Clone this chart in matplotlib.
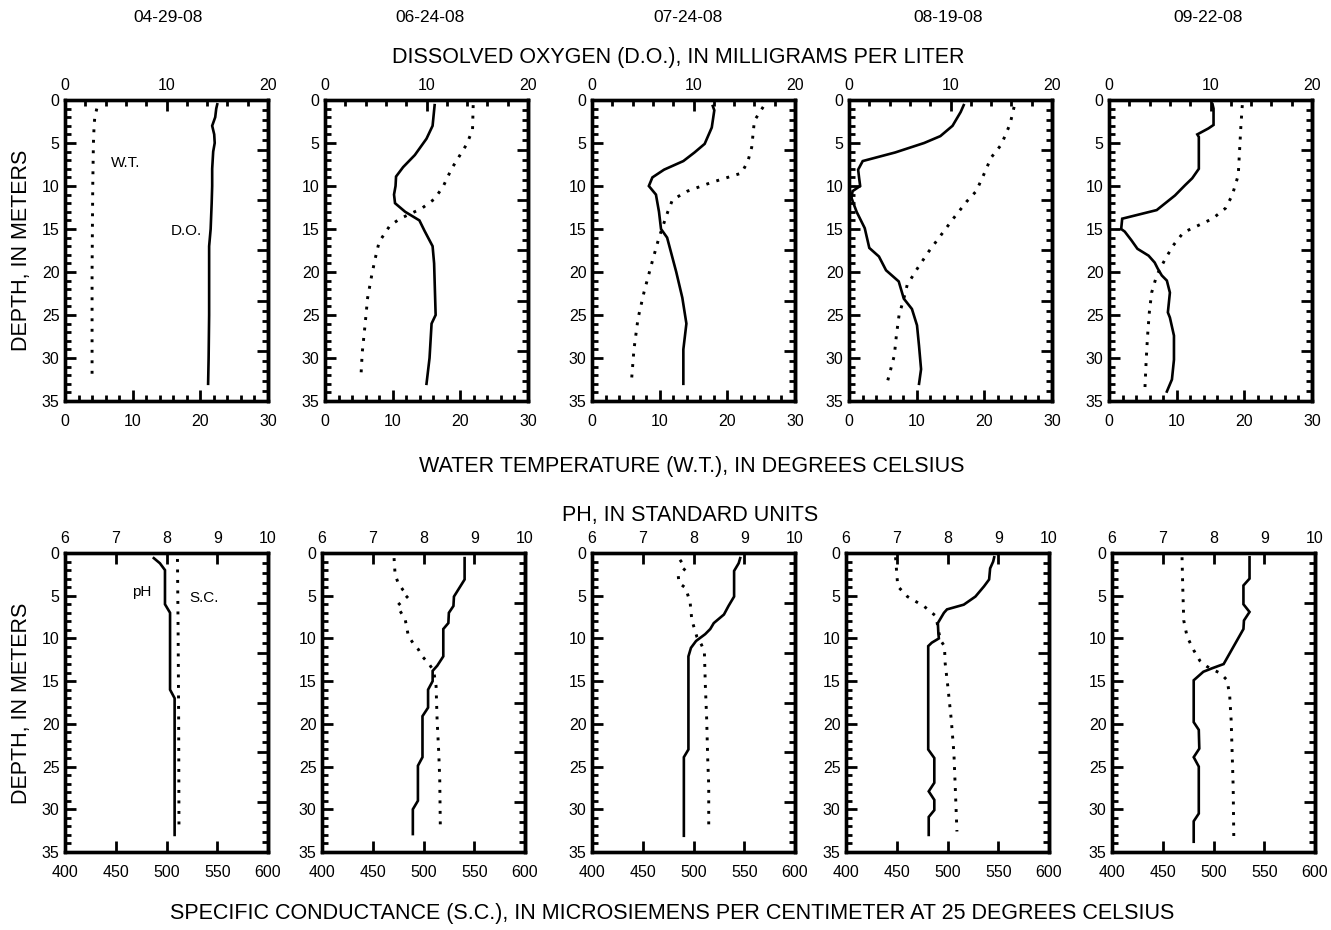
import numpy as np
import matplotlib
matplotlib.use("Agg")
import matplotlib.pyplot as plt
from matplotlib.ticker import MultipleLocator, FixedLocator, NullFormatter

plt.rcParams['font.family'] = ['Liberation Sans', 'DejaVu Sans']

dates = ["04-29-08", "06-24-08", "07-24-08", "08-19-08", "09-22-08"]

# ---- Dissolved oxygen (mg/L) vs depth ----
do1_depth = [0.5, 1, 2, 3, 4, 5, 6, 8, 10, 12, 15, 17, 20, 25, 30, 33]
do1 = [15.0, 14.9, 14.8, 14.5, 14.7, 14.75, 14.6, 14.5, 14.5, 14.45, 14.35, 14.2, 14.2, 14.2, 14.15, 14.1]
do2_depth = [0.6, 3, 4.5, 6.4, 7.8, 8.9, 10, 11, 12, 13, 14, 15.2, 17, 19, 25, 26, 30, 33]
do2 = [10.8, 10.6, 10.0, 8.85, 7.7, 7.0, 6.95, 6.8, 6.9, 7.9, 9.3, 9.8, 10.6, 10.75, 10.9, 10.5, 10.3, 10.0]
do3_depth = [0.7, 1.2, 3.2, 5.1, 6.1, 7.1, 8.1, 9.0, 10, 11, 13, 15, 16, 20, 23, 26, 29, 33]
do3 = [11.9, 12.05, 11.8, 11.1, 10.1, 9.0, 7.1, 5.95, 5.6, 6.3, 6.6, 6.8, 7.4, 8.3, 8.9, 9.3, 9.0, 9.0]
do4_depth = [0.6, 1.4, 3, 4.2, 5, 6.1, 7.1, 8.1, 9.1, 10, 10.6, 11.4, 13, 14.9, 17.2, 18.2, 19.8,
             21.1, 23.1, 24.3, 26.2, 28.6, 31.3, 33]
do4 = [11.3, 11.0, 10.2, 9.0, 7.4, 4.55, 1.35, 0.9, 1.0, 1.1, 0.35, 0.25, 0.75, 1.55, 2.0, 2.95, 3.65,
       4.9, 5.4, 6.2, 6.7, 6.9, 7.1, 6.9]
do5_depth = [0.5, 1.0, 2.9, 3.3, 4.0, 4.3, 8.0, 9.1, 9.9, 11.1, 12.8, 13.8, 15.0, 15.3, 16.3, 17.3,
             18.1, 18.9, 19.6, 20.4, 21.0, 22.4, 24.7, 25.3, 27.4, 30.2, 32.5, 33.9]
do5 = [10.2, 10.3, 10.3, 9.8, 8.7, 8.85, 8.85, 8.2, 7.5, 6.5, 4.7, 1.3, 1.2, 1.55, 2.2, 2.8,
       3.9, 4.5, 4.8, 5.2, 5.7, 6.0, 5.8, 6.0, 6.4, 6.4, 6.2, 5.7]

# ---- Water temperature (deg C) vs depth ----
wt1_depth = [1, 2, 3, 5, 10, 15, 20, 25, 30, 32]
wt1 = [4.7, 4.4, 4.3, 4.2, 4.1, 4.05, 4.0, 4.0, 4.0, 4.0]
wt2_depth = [0.6, 3.5, 5.2, 8, 10, 11.5, 12.6, 13.8, 14.6, 16.5, 18.5, 20.4, 23, 26.3, 29.4, 32.3]
wt2 = [21.9, 21.8, 20.9, 18.7, 17.5, 16.2, 14.3, 11.1, 9.6, 8.0, 7.4, 6.9, 6.3, 5.9, 5.5, 5.3]
wt3_depth = [0.8, 2.4, 5.5, 7.1, 8.5, 9.6, 10.6, 11.6, 13, 16, 18.8, 22.3, 25.4, 29, 32.5]
wt3 = [25.3, 24.0, 23.6, 23.05, 22.1, 17.6, 14.1, 11.9, 11.2, 9.9, 8.9, 7.7, 6.8, 6.2, 5.85]
wt4_depth = [0.8, 2.8, 5.2, 6.7, 8.7, 10.6, 11.8, 13.7, 15.7, 17.6, 19.6, 21.5, 23.1, 25, 27.4, 29.7, 32.7]
wt4 = [24.4, 23.8, 22.5, 21.0, 19.9, 18.8, 17.4, 15.5, 13.6, 11.8, 10.1, 8.6, 8.1, 7.4, 7.0, 6.7, 5.7]
wt5_depth = [0.6, 2.9, 8.75, 11.1, 12.6, 13.8, 15.4, 16.9, 18.5, 20.4, 22.4, 24.7, 27.4, 30.2, 33.7]
wt5 = [19.7, 19.5, 19.1, 18.2, 17.2, 15.3, 11.0, 9.5, 8.3, 7.05, 6.3, 5.96, 5.7, 5.5, 5.3]

# ---- pH (standard units) vs depth ----
ph1_depth = [0.6, 1.2, 2.0, 6.0, 7.0, 16.0, 17.0, 33.0]
ph1 = [7.75, 7.87, 7.97, 7.97, 8.07, 8.07, 8.16, 8.16]
ph2_depth = [0.6, 3.1, 5.1, 6.2, 7.0, 8.2, 8.9, 12.1, 13.2, 13.8, 15, 16, 18.1, 19.1, 23.9, 24.9, 29, 30, 32.9]
ph2 = [8.81, 8.81, 8.6, 8.59, 8.5, 8.49, 8.39, 8.39, 8.27, 8.18, 8.18, 8.09, 8.09, 7.98, 7.98, 7.89, 7.89, 7.79, 7.79]
ph3_depth = [0.6, 1.2, 2.1, 5.1, 6.2, 7.2, 8.2, 8.9, 9.5, 10.3, 11.1, 12.1, 23, 23.9, 33.1]
ph3 = [8.92, 8.89, 8.8, 8.8, 8.69, 8.6, 8.4, 8.33, 8.23, 8.05, 7.95, 7.9, 7.9, 7.81, 7.81]
ph4_depth = [0.5, 1.0, 1.8, 3.1, 3.9, 5.1, 6.05, 6.6, 7.0, 7.6, 8.2, 9.4, 10, 10.5, 10.9, 23, 24,
             26.9, 27.9, 28.9, 30.1, 30.9, 33]
ph4 = [8.92, 8.9, 8.84, 8.82, 8.72, 8.55, 8.32, 7.99, 7.93, 7.87, 7.81, 7.82, 7.83, 7.69, 7.62, 7.62, 7.74,
       7.74, 7.63, 7.74, 7.74, 7.63, 7.63]
ph5_depth = [0.5, 3.0, 3.8, 6.0, 6.9, 7.9, 8.9, 13.0, 13.5, 13.9, 14.9, 19.8, 20.7, 22.9, 23.9, 25,
             30.5, 31.4, 33.8]
ph5 = [8.71, 8.71, 8.59, 8.59, 8.71, 8.6, 8.59, 8.2, 7.97, 7.8, 7.61, 7.61, 7.71, 7.72, 7.61, 7.71,
       7.71, 7.61, 7.61]

# ---- Specific conductance (uS/cm) vs depth ----
sc1_depth = [0.7, 10, 20, 32.6]
sc1 = [510.8, 511.5, 512, 512.3]
sc2_depth = [0.6, 2.5, 3.5, 4.3, 5.0, 5.6, 6.2, 7.0, 7.8, 8.9, 9.7, 10.6, 11.3, 12.1, 12.9, 13.8,
             15.6, 19.5, 23.3, 26.5, 32.3]
sc2 = [471, 472, 475, 479.6, 485, 479.6, 474, 478, 482, 483.8, 485, 490, 495, 498.7, 505, 510,
       512.4, 513.4, 515, 516, 516.6]
sc3_depth = [0.8, 1.75, 2.7, 3.5, 4.1, 5.8, 7.8, 8.9, 9.8, 10.7, 11.5, 15.6, 19.5, 24.1, 27.2, 32.5]
sc3 = [486.7, 492.3, 485, 485.7, 492.3, 496.7, 498.3, 501, 503.3, 507.7, 510.7, 511.7, 513, 514, 515, 515]
sc4_depth = [0.5, 3.9, 5.1, 6.25, 7.4, 9.0, 10.2, 10.9, 12.9, 15.6, 19.5, 23.4, 27.3, 32.6]
sc4 = [448.8, 451, 460.5, 477, 488.7, 491, 493, 497, 497.7, 500.3, 503.7, 506.3, 507.6, 509.3]
sc5_depth = [0.5, 4.0, 7.9, 9.8, 11.4, 12.6, 13.3, 14.1, 14.9, 16.8, 19.6, 23.5, 27.4, 33.5]
sc5 = [469, 469.7, 470.7, 474, 480.6, 486.5, 493.8, 507, 513.5, 516, 517.4, 518.4, 519.4, 520]

DO = [(do1_depth, do1), (do2_depth, do2), (do3_depth, do3), (do4_depth, do4), (do5_depth, do5)]
WT = [(wt1_depth, wt1), (wt2_depth, wt2), (wt3_depth, wt3), (wt4_depth, wt4), (wt5_depth, wt5)]
PH = [(ph1_depth, ph1), (ph2_depth, ph2), (ph3_depth, ph3), (ph4_depth, ph4), (ph5_depth, ph5)]
SC = [(sc1_depth, sc1), (sc2_depth, sc2), (sc3_depth, sc3), (sc4_depth, sc4), (sc5_depth, sc5)]

W, H = 1331, 930
fig = plt.figure(figsize=(W / 100, H / 100), dpi=100)

top_lefts = [65, 325, 592, 849, 1109]
bot_lefts = [65, 322, 592, 846, 1112]
pw = 203
top_y0, top_y1 = 100, 401
bot_y0, bot_y1 = 553, 852

SPINE_LW = 2.4
TICK_W = 2.0
TICK_FS = 11.5
DOT_STYLE = dict(color='black', lw=2.1, linestyle=(0, (1, 2.6)), dash_capstyle='butt')
SOLID_STYLE = dict(color='black', lw=1.9, solid_joinstyle='miter')


def rect(left, y0, y1):
    return [left / W, 1 - y1 / H, pw / W, (y1 - y0) / H]


def style_panel(ax):
    ax.set_ylim(35, 0)
    ax.yaxis.set_major_locator(MultipleLocator(5))
    ax.yaxis.set_minor_locator(MultipleLocator(1))
    ax.tick_params(axis='both', which='both', direction='in', width=TICK_W, labelsize=TICK_FS,
                   top=False, right=False)
    ax.tick_params(axis='y', which='both', pad=4)
    ax.tick_params(axis='x', which='both', pad=9)
    ax.tick_params(axis='both', which='major', length=8)
    ax.tick_params(axis='both', which='minor', length=4.5)
    for s in ax.spines.values():
        s.set_linewidth(SPINE_LW)
    sec = ax.secondary_yaxis('right')
    sec.yaxis.set_major_locator(FixedLocator(np.linspace(0, 35, 7)))
    sec.yaxis.set_minor_locator(FixedLocator(np.linspace(0, 35, 31)))
    sec.yaxis.set_major_formatter(NullFormatter())
    sec.tick_params(axis='y', which='both', direction='in', width=TICK_W)
    sec.tick_params(axis='y', which='major', length=8)
    sec.tick_params(axis='y', which='minor', length=4.5)
    sec.spines['right'].set_linewidth(SPINE_LW)


for i in range(5):
    # top row: DO (top axis) and water temperature (bottom axis)
    ax = fig.add_axes(rect(top_lefts[i], top_y0, top_y1))
    style_panel(ax)
    ax.set_xlim(0, 30)
    ax.xaxis.set_major_locator(MultipleLocator(10))
    ax.xaxis.set_minor_locator(MultipleLocator(2))
    ax.plot(WT[i][1], WT[i][0], **DOT_STYLE)
    ax2 = ax.twiny()
    ax2.set_xlim(0, 20)
    ax2.xaxis.set_major_locator(MultipleLocator(10))
    ax2.xaxis.set_minor_locator(MultipleLocator(2))
    ax2.tick_params(axis='x', which='both', direction='in', width=TICK_W, labelsize=TICK_FS, pad=5)
    ax2.tick_params(axis='x', which='major', length=8)
    ax2.tick_params(axis='x', which='minor', length=4.5)
    for s in ax2.spines.values():
        s.set_linewidth(SPINE_LW)
    ax2.plot(DO[i][1], DO[i][0], **SOLID_STYLE)
    if i == 0:
        ax.text(8.9, 7.3, "W.T.", fontsize=11, ha='center', va='center')
        ax.text(18.0, 15.2, "D.O.", fontsize=11, ha='center', va='center')

    # bottom row: pH (top axis) and specific conductance (bottom axis)
    bx = fig.add_axes(rect(bot_lefts[i], bot_y0, bot_y1))
    style_panel(bx)
    bx.set_xlim(400, 600)
    bx.xaxis.set_major_locator(MultipleLocator(50))
    bx.plot(SC[i][1], SC[i][0], **DOT_STYLE)
    bx2 = bx.twiny()
    bx2.set_xlim(6, 10)
    bx2.xaxis.set_major_locator(MultipleLocator(1))
    bx2.tick_params(axis='x', which='both', direction='in', width=TICK_W, labelsize=TICK_FS,
                    length=8, pad=5)
    for s in bx2.spines.values():
        s.set_linewidth(SPINE_LW)
    bx2.plot(PH[i][1], PH[i][0], **SOLID_STYLE)
    if i == 0:
        bx.text(475.9, 4.6, "pH", fontsize=11, ha='center', va='center')
        bx.text(537, 5.3, "S.C.", fontsize=11, ha='center', va='center')

# dates
date_x = [168, 430, 688, 948, 1208]
for d, x in zip(dates, date_x):
    fig.text(x / W, 1 - 18 / H, d, ha='center', va='center', fontsize=12.5)

TITLE_FS = 15.5
fig.text(678 / W, 1 - 58 / H, "DISSOLVED OXYGEN (D.O.), IN MILLIGRAMS PER LITER",
         ha='center', va='center', fontsize=TITLE_FS)
fig.text(692 / W, 1 - 466 / H, "WATER TEMPERATURE (W.T.), IN DEGREES CELSIUS",
         ha='center', va='center', fontsize=TITLE_FS)
fig.text(690 / W, 1 - 515 / H, "PH, IN STANDARD UNITS",
         ha='center', va='center', fontsize=TITLE_FS)
fig.text(672 / W, 1 - 913 / H,
         "SPECIFIC CONDUCTANCE (S.C.), IN MICROSIEMENS PER CENTIMETER AT 25 DEGREES CELSIUS",
         ha='center', va='center', fontsize=TITLE_FS)
fig.text(22 / W, 1 - 250 / H, "DEPTH, IN METERS", rotation=90, ha='center', va='center', fontsize=15.5)
fig.text(22 / W, 1 - 703 / H, "DEPTH, IN METERS", rotation=90, ha='center', va='center', fontsize=15.5)

fig.savefig("out.png", dpi=100)
